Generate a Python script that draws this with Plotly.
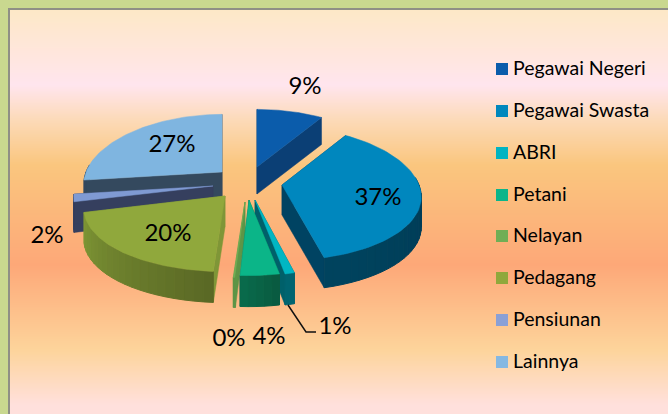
import numpy as np
import plotly.graph_objects as go

# ---- data ----
categories = ["Pegawai Negeri", "Pegawai Swasta", "ABRI", "Petani", "Nelayan", "Pedagang", "Pensiunan", "Lainnya"]
values = [9, 37, 1, 4, 0.2, 20, 2, 27]

# ---- style ----
legend_colors = ["#0B5CAB", "#0087BD", "#00B4C2", "#0BB58A", "#70AE55", "#90A83C", "#8AA0D6", "#85B8E2"]
top_colors = ["#0B5CAB", "#0087BE", "#00B6C3", "#0BB588", "#70AE55", "#90A83C", "#7F9AD3", "#7FB5E0"]
wall_colors = ["#0B3F75", "#004362", "#00606A", "#0B6B4E", "#5E9547", "#7F9637", "#353F5E", "#34495E"]
rim_start = ["#0B3F75", "#003650", "#006470", "#0A5A40", "#5E9547", "#5A6825", "#353F5E", "#34495E"]
rim_end = ["#0B3F75", "#01445F", "#006470", "#096C4D", "#5E9547", "#7F9736", "#353F5E", "#34495E"]
apex_x = [257, 282, 255, 249, 245, 225, 213, 222]
apex_y = [167, 185, 200, 200, 202, 196, 186, 172]
depths = [27, 30, 31, 31, 30, 31, 30, 30]
radius_x = [139, 137, 128, 130, 139, 139, 137, 136]
draw_order = [7, 6, 5, 0, 1, 2, 4, 3]
label_x = [305, 378, 335, 269, 229, 168, 47, 172]
label_y = [88, 199, 328, 338, 340, 235, 237, 146]
legend_y = [69, 111, 153, 195, 236, 278, 320, 362]
legend_text_y = [70, 112, 154, 196, 237, 279, 321, 363]
grad_stops = [(10, "#FDE8C7"), (60, "#FFE6E0"), (85, "#FFE5EE"), (120, "#FCDAB8"), (165, "#FAC67E"),
              (265, "#FDA878"), (350, "#FDD49B"), (405, "#FFE0DC"), (414, "#FFE0DC")]

RY, K = 65.0, 0.18


def project(theta, ax, ay, rx):
    c, s = np.cos(theta), np.sin(theta)
    den = 1 + K * c
    return ax + rx * s / den, ay - (RY + 3 * c) * c / den


def rgb(h):
    return np.array([int(h[i:i + 2], 16) for i in (1, 3, 5)], float)


def mix(a, b, t):
    v = rgb(a) * (1 - t) + rgb(b) * t
    return "rgb(%d,%d,%d)" % tuple(v)


def poly(fig, xs, ys, color, lw=0.5):
    fig.add_trace(go.Scatter(x=list(xs), y=list(ys), mode="lines", fill="toself", fillcolor=color,
                             line=dict(color=color, width=lw), hoverinfo="skip", showlegend=False))


fig = go.Figure()

# background gradient
y0, y1 = grad_stops[0][0], grad_stops[-1][0]
rows = np.arange(y0, y1) + 0.5
fig.add_trace(go.Heatmap(
    z=[[float(r)] for r in rows], x=[10, 668], y=np.arange(y0, y1 + 1).tolist(), zmin=y0, zmax=y1,
    colorscale=[[(p - y0) / (y1 - y0), c] for p, c in grad_stops],
    showscale=False, hoverinfo="skip"))

# slices
total = sum(values)
edges = np.concatenate([[0], np.cumsum(values)]) / total * 2 * np.pi
for i in draw_order:
    a, b = edges[i], edges[i + 1]
    ax, ay, d, rx = apex_x[i], apex_y[i], depths[i], radius_x[i]
    # cut faces
    for t in (a, b):
        px, py = project(t, ax, ay, rx)
        poly(fig, [ax, px, px, ax, ax], [ay, py, py + d, ay + d, ay], wall_colors[i])
    # outer rim
    ts = np.linspace(a, b, max(3, int((b - a) / 0.06) + 2))
    for j in range(len(ts) - 1):
        if np.cos((ts[j] + ts[j + 1]) / 2) > 0.1:
            continue
        x1, y1_ = project(ts[j], ax, ay, rx)
        x2, y2_ = project(ts[j + 1], ax, ay, rx)
        poly(fig, [x1, x2, x2, x1, x1], [y1_, y2_, y2_ + d, y1_ + d, y1_],
             mix(rim_end[i], rim_start[i], 1 - (j + 0.5) / (len(ts) - 1)), lw=1)
    # top face
    tx, ty = project(np.linspace(a, b, 60), ax, ay, rx)
    poly(fig, [ax, *tx, ax], [ay, *ty, ay], top_colors[i])

# leader line for the ABRI label
fig.add_trace(go.Scatter(x=[288, 306, 316], y=[305, 332, 332], mode="lines",
                         line=dict(color="#111111", width=1.5), hoverinfo="skip", showlegend=False))

# percent labels
fig.add_trace(go.Scatter(x=label_x, y=label_y, mode="text",
                         text=["%d%%" % round(v / total * 100) for v in values],
                         textposition="middle center",
                         textfont=dict(family="Lato", size=24, color="#000000"),
                         hoverinfo="skip", showlegend=False))

# legend
fig.add_trace(go.Scatter(x=[502] * len(categories), y=legend_y, mode="markers",
                         marker=dict(symbol="square", size=12, color=legend_colors, line=dict(width=0)),
                         hoverinfo="skip", showlegend=False))
fig.add_trace(go.Scatter(x=[513] * len(categories), y=legend_text_y, mode="text", text=categories,
                         textposition="middle right",
                         textfont=dict(family="Lato", size=19.5, color="#000000"),
                         hoverinfo="skip", showlegend=False))

fig.update_layout(
    width=668, height=414, margin=dict(l=0, r=0, t=0, b=0), showlegend=False,
    paper_bgcolor="#C9D88F", plot_bgcolor="#C9D88F",
    xaxis=dict(range=[0, 668], visible=False, fixedrange=True),
    yaxis=dict(range=[414, 0], visible=False, fixedrange=True),
    shapes=[dict(type="rect", x0=8, y0=8, x1=668, y1=414, fillcolor="#8F8F85", line_width=0, layer="below")],
)
fig.write_html("out.html", config=dict(displayModeBar=False),
               post_script="document.body.style.margin='0';document.body.style.overflow='hidden';")
